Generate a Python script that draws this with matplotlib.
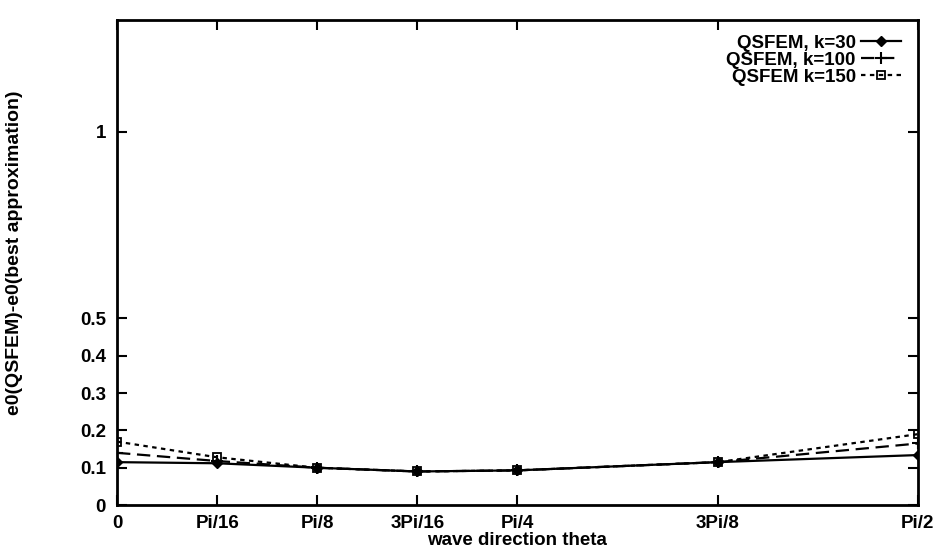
import numpy as np
import matplotlib
matplotlib.use('Agg')
import matplotlib.pyplot as plt

plt.rcParams['font.family'] = ['Liberation Sans', 'DejaVu Sans']
plt.rcParams['font.weight'] = 'bold'

# angulos (en unidades de pi) y etiquetas
theta = np.array([0, 1/16, 1/8, 3/16, 1/4, 3/8, 1/2]) * np.pi
etiquetas_x = ['0', 'Pi/16', 'Pi/8', '3Pi/16', 'Pi/4', '3Pi/8', 'Pi/2']
ticks_y = [0, 0.1, 0.2, 0.3, 0.4, 0.5, 1]

# error
k30 = [0.115, 0.112, 0.100, 0.090, 0.093, 0.115, 0.134]
k100 = [0.140, 0.118, 0.100, 0.090, 0.093, 0.115, 0.165]
k150 = [0.170, 0.128, 0.100, 0.090, 0.093, 0.115, 0.190]

fig = plt.figure(figsize=(9.4, 5.49), dpi=100)
ax = fig.add_axes([0.1245, 0.080, 0.852, 0.884])

ax.plot(theta, k30, color='black', lw=1.6, ls='-', marker='D', ms=5,
        label='QSFEM, k=30')
ax.plot(theta, k100, color='black', lw=1.6, ls=(0, (6, 3)), marker='+', ms=9,
        mew=1.5, label='QSFEM, k=100')
ax.plot(theta, k150, color='black', lw=1.6, ls=(0, (2, 2)), marker='s', ms=6,
        mfc='none', mew=1.3, label='QSFEM k=150')

ax.set_xlim(0, np.pi / 2)
ax.set_ylim(0, 1.3)
ax.set_xticks(theta)
ax.set_xticklabels(etiquetas_x)
ax.set_yticks(ticks_y)
ax.set_yticklabels(['0', '0.1', '0.2', '0.3', '0.4', '0.5', '1'])
ax.tick_params(direction='in', top=True, right=True, length=7, width=1.5,
               labelsize=13.5)
ax.tick_params(axis='x', pad=7)
ax.tick_params(axis='y', pad=8)
for s in ax.spines.values():
    s.set_linewidth(2)

ax.set_xlabel('wave direction theta', fontsize=13.5, fontweight='bold',
              labelpad=0)
ax.set_ylabel('e0(QSFEM)-e0(best approximation)', fontsize=14,
              fontweight='bold')
ax.yaxis.set_label_coords(-0.118, 0.52)

ax.legend(loc='upper right', bbox_to_anchor=(0.988, 0.985), borderaxespad=0,
          frameon=False, markerfirst=False, fontsize=13.5,
          handlelength=2.1, labelspacing=0.0, handletextpad=0.3)

fig.savefig('out.png', dpi=100)
